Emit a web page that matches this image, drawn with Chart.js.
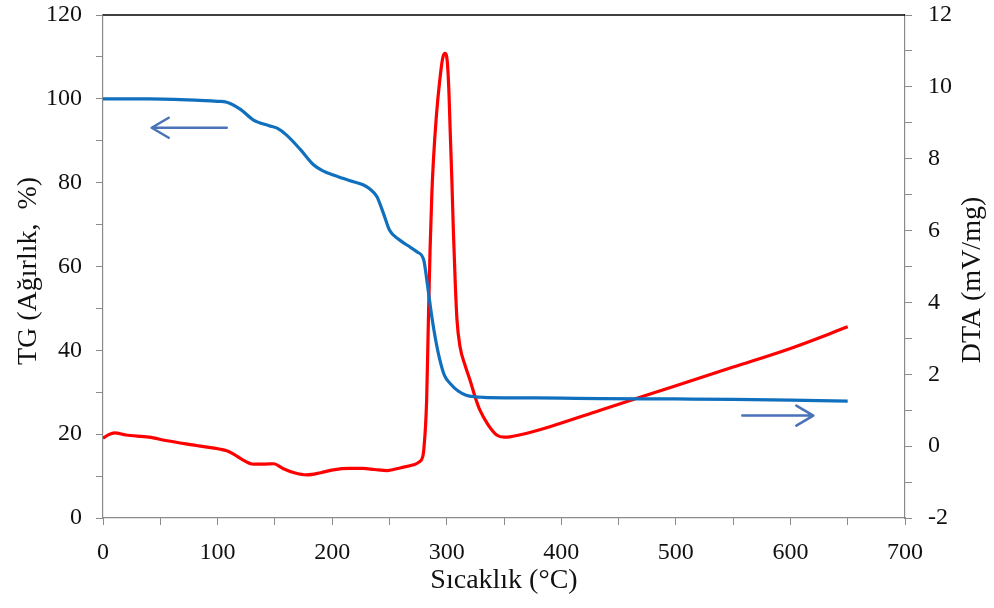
<!DOCTYPE html>
<html>
<head>
<meta charset="utf-8">
<script src="https://cdn.jsdelivr.net/npm/chart.js@4.4.1/dist/chart.umd.min.js"></script>
<style>
html,body{margin:0;padding:0;background:#fff;}
#wrap{width:994px;height:608px;}
</style>
</head>
<body>
<div id="wrap"><canvas id="c" width="994" height="608"></canvas></div>
<script>
// ---- Data ----
const tgTemp  = [0, 40, 80, 100, 108, 120, 131, 145, 152, 160, 172, 184, 192, 201, 215, 227, 233, 239, 245, 250, 258, 266, 274, 280, 283, 287, 290, 294, 298, 303, 310, 317, 325, 332, 400, 434, 500, 550, 600, 650];
const tgValue = [100.0, 100.0, 99.7, 99.4, 99.2, 97.5, 95.0, 93.6, 93.0, 91.4, 88.0, 84.2, 82.8, 81.8, 80.5, 79.5, 78.5, 76.7, 72.5, 68.7, 66.5, 65.0, 63.5, 61.5, 56.0, 48.0, 43.0, 37.7, 34.0, 32.1, 30.3, 29.3, 28.9, 28.8, 28.6, 28.5, 28.4, 28.3, 28.1, 27.9];

const dtaTemp  = [0, 5, 10, 20, 40, 56, 85, 108, 114, 122, 131, 140, 149, 157, 167, 178, 190, 201, 215, 227, 237, 248, 260, 271, 276, 279, 280, 282.5, 284, 285.5, 287, 288.3, 291, 294, 296.5, 298.5, 300.5, 302, 303, 304.5, 305.8, 307.5, 309, 311.6, 316, 320.3, 325, 329, 336, 343.6, 350, 355, 370, 390, 434, 500, 550, 600, 650];
const dtaValue = [0.22, 0.32, 0.37, 0.31, 0.25, 0.15, 0.0, -0.13, -0.22, -0.38, -0.50, -0.50, -0.49, -0.62, -0.74, -0.80, -0.74, -0.66, -0.62, -0.62, -0.65, -0.68, -0.60, -0.52, -0.44, -0.30, -0.10, 1.3, 3.5, 5.5, 7.0, 7.9, 9.2, 10.2, 10.8, 10.93, 10.7, 9.8, 8.8, 7.4, 6.0, 4.5, 3.5, 2.77, 2.25, 1.84, 1.35, 1.0, 0.6, 0.31, 0.25, 0.26, 0.36, 0.54, 1.0, 1.68, 2.2, 2.72, 3.32];

// Arrows: [tailTemp, tipTemp], level on the given axis
const tgArrowTemp = [108, 42.5];
const tgArrowLevel = 93.1;      // left axis (TG %)
const dtaArrowTemp = [558, 620];
const dtaArrowLevel = 0.85;     // right axis (DTA mV/mg)

const xTitle = 'Sıcaklık (°C)';
const yTitle = 'TG (Ağırlık,  %)';
const y2Title = 'DTA (mV/mg)';

const tgPoints = tgTemp.map((t, i) => ({x: t, y: tgValue[i]}));
const dtaPoints = dtaTemp.map((t, i) => ({x: t, y: dtaValue[i]}));

const FONT = "'Liberation Serif', 'Times New Roman', serif";
const AXIS_COLOR = '#8a8a8a';

const arrowPlugin = {
  id: 'arrows',
  afterDatasetsDraw(chart) {
    const ctx = chart.ctx;
    const xs = chart.scales.x;
    function arrow(t0, t1, v, scale) {
      const x0 = xs.getPixelForValue(t0), x1 = xs.getPixelForValue(t1);
      const y = scale.getPixelForValue(v);
      const dir = Math.sign(x1 - x0);
      ctx.save();
      ctx.strokeStyle = '#4A72B8';
      ctx.lineWidth = 2.5;
      ctx.lineCap = 'round';
      ctx.lineJoin = 'round';
      ctx.beginPath();
      ctx.moveTo(x0, y); ctx.lineTo(x1, y);
      ctx.moveTo(x1 - dir * 17, y - 10); ctx.lineTo(x1, y); ctx.lineTo(x1 - dir * 17, y + 10);
      ctx.stroke();
      ctx.restore();
    }
    arrow(tgArrowTemp[0], tgArrowTemp[1], tgArrowLevel, chart.scales.y);
    arrow(dtaArrowTemp[0], dtaArrowTemp[1], dtaArrowLevel, chart.scales.y2);
  }
};

const framePlugin = {
  id: 'frame',
  afterDraw(chart) {
    const ctx = chart.ctx;
    const a = chart.chartArea;
    ctx.save();
    // top border
    ctx.strokeStyle = '#000';
    ctx.lineWidth = 1.5;
    ctx.beginPath();
    ctx.moveTo(a.left, a.top); ctx.lineTo(a.right, a.top);
    ctx.stroke();
    // titles
    ctx.fillStyle = '#111';
    ctx.font = "28px " + FONT;
    ctx.textAlign = 'center';
    ctx.textBaseline = 'middle';
    ctx.fillText(xTitle, (a.left + a.right) / 2, 581);
    ctx.save();
    ctx.translate(29, 271);
    ctx.rotate(-Math.PI / 2);
    ctx.fillText(yTitle, 0, 0);
    ctx.restore();
    ctx.save();
    ctx.translate(973, 280);
    ctx.rotate(-Math.PI / 2);
    ctx.fillText(y2Title, 0, 0);
    ctx.restore();
    ctx.restore();
  }
};

function fixVertical(width) {
  return s => { s.width = width; s.paddingTop = 15; s.paddingBottom = 0; };
}

new Chart(document.getElementById('c'), {
  type: 'line',
  data: {
    datasets: [
      {
        label: 'TG',
        data: tgPoints,
        yAxisID: 'y',
        borderColor: '#1170BE',
        borderWidth: 3.2,
        pointRadius: 0,
        cubicInterpolationMode: 'monotone',
        fill: false
      },
      {
        label: 'DTA',
        data: dtaPoints,
        yAxisID: 'y2',
        borderColor: '#FF0000',
        borderWidth: 3.2,
        pointRadius: 0,
        cubicInterpolationMode: 'monotone',
        fill: false
      }
    ]
  },
  options: {
    responsive: false,
    animation: false,
    layout: { padding: { top: 15, left: 0, right: 0, bottom: 0 } },
    plugins: { legend: { display: false }, tooltip: { enabled: false } },
    scales: {
      x: {
        type: 'linear',
        min: 0, max: 700,
        ticks: {
          stepSize: 50,
          color: '#111',
          font: { family: FONT, size: 24 },
          padding: 13,
          maxRotation: 0,
          autoSkip: false,
          callback: v => (v % 100 === 0 ? String(v) : '')
        },
        grid: { drawOnChartArea: false, color: AXIS_COLOR, tickLength: 7 },
        border: { color: AXIS_COLOR, width: 1.2 },
        afterFit: s => { s.height = 90; s.paddingLeft = 0; s.paddingRight = 0; }
      },
      y: {
        position: 'left',
        min: 0, max: 120,
        ticks: {
          stepSize: 10,
          color: '#111',
          font: { family: FONT, size: 24 },
          padding: 14,
          autoSkip: false,
          callback: v => (v % 20 === 0 ? String(v) : '')
        },
        grid: { drawOnChartArea: false, color: AXIS_COLOR, tickLength: 7 },
        border: { color: AXIS_COLOR, width: 1.2 },
        afterFit: fixVertical(103)
      },
      y2: {
        position: 'right',
        min: -2, max: 12,
        ticks: {
          stepSize: 1,
          color: '#111',
          font: { family: FONT, size: 24 },
          padding: 16,
          autoSkip: false,
          callback: v => (v % 2 === 0 ? String(v) : '')
        },
        grid: { drawOnChartArea: false, color: AXIS_COLOR, tickLength: 7 },
        border: { color: AXIS_COLOR, width: 1.2 },
        afterFit: fixVertical(89)
      }
    }
  },
  plugins: [arrowPlugin, framePlugin]
});
</script>
</body>
</html>
